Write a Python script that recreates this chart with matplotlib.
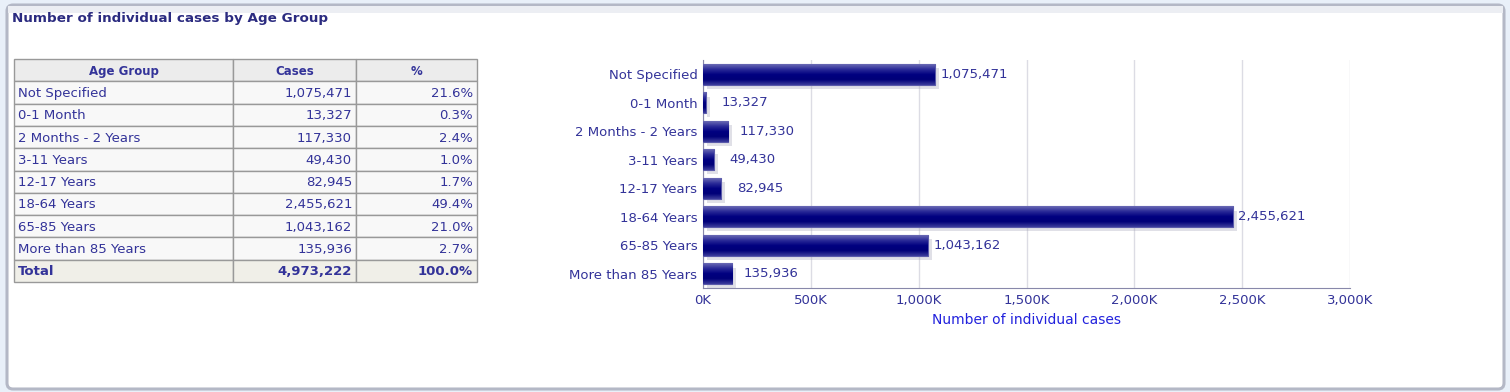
import numpy as np
import matplotlib
matplotlib.use("Agg")
import matplotlib.pyplot as plt
from matplotlib.patches import FancyBboxPatch, Rectangle
from matplotlib.colors import LinearSegmentedColormap
from matplotlib.ticker import FuncFormatter
import matplotlib.patheffects as pe

# data
age_groups = ["Not Specified", "0-1 Month", "2 Months - 2 Years", "3-11 Years",
              "12-17 Years", "18-64 Years", "65-85 Years", "More than 85 Years"]
cases = [1075471, 13327, 117330, 49430, 82945, 2455621, 1043162, 135936]
percents = [21.6, 0.3, 2.4, 1.0, 1.7, 49.4, 21.0, 2.7]
total_cases = 4973222
total_pct = 100.0
headers = ["Age Group", "Cases", "%"]
xticks = [0, 500000, 1000000, 1500000, 2000000, 2500000, 3000000]

title = "Number of individual cases by Age Group"
xlabel = "Number of individual cases"

txt = "#333399"
W, H = 1510, 392
fig = plt.figure(figsize=(W / 100, H / 100), dpi=100)
fig.patch.set_facecolor("#e9f0f9")

# background layer in pixel coords
bg = fig.add_axes([0, 0, 1, 1])
bg.set_xlim(0, W)
bg.set_ylim(H, 0)
bg.axis("off")
bg.add_patch(FancyBboxPatch((7, 5), W - 13, H - 8, boxstyle="round,pad=0,rounding_size=6",
                            fc="white", ec="#b4b8c6", lw=2.2))
bg.add_patch(Rectangle((8, 6), W - 15, 7, fc="#eceef3", ec="none"))
bg.text(12, 18, title, fontsize=9.7, fontweight="bold", color="#2b2b80", va="center", ha="left")

# table
col_x = [14, 233, 356, 477]
top, bottom = 59, 282
nrows = len(age_groups) + 2
rh = (bottom - top) / nrows
rows = [headers]
for g, c, p in zip(age_groups, cases, percents):
    rows.append([g, f"{c:,}", f"{p:.1f}%"])
rows.append(["Total", f"{total_cases:,}", f"{total_pct:.1f}%"])
for i, row in enumerate(rows):
    y0 = top + i * rh
    if i == 0:
        fc = "#ececec"
    elif i == nrows - 1:
        fc = "#f0efe8"
    else:
        fc = "#f8f8f8"
    for j in range(3):
        bg.add_patch(Rectangle((col_x[j], y0), col_x[j + 1] - col_x[j], rh,
                               fc=fc, ec="#999999", lw=1))
        bold = i == 0 or i == nrows - 1
        fs = 8.5 if i == 0 else 9.5
        if i == 0:
            x, ha = (col_x[j] + col_x[j + 1]) / 2, "center"
        elif j == 0:
            x, ha = col_x[j] + 4, "left"
        else:
            x, ha = col_x[j + 1] - 4, "right"
        bg.text(x, y0 + rh / 2 + 1, row[j], fontsize=fs, color=txt, ha=ha, va="center",
                fontweight="bold" if bold else "normal")

# bar chart
ax = fig.add_axes([703 / W, 1 - 288 / H, (1350 - 703) / W, (288 - 60) / H])
ypos = np.arange(len(age_groups))
bars = ax.barh(ypos, cases, height=0.72, color="#101088", edgecolor="#5a5aaa", lw=0.8, zorder=3,
               path_effects=[pe.SimplePatchShadow(offset=(3, -3), shadow_rgbFace="#9a9ab0", alpha=0.3),
                             pe.Normal()])
cmap = LinearSegmentedColormap.from_list("bar", ["#6a6ab4", "#2a2a98", "#000080", "#000078", "#3c3c9c"])
grad = np.linspace(0, 1, 64).reshape(-1, 1)
for b in bars:
    im = ax.imshow(grad, cmap=cmap, aspect="auto", zorder=4,
                   extent=(b.get_x(), b.get_x() + b.get_width(), b.get_y() + b.get_height(), b.get_y()))
    im.set_clip_path(b)
# value labels centred a fixed distance past the bar end
for b, v in zip(bars, cases):
    ax.annotate(f"{v:,}", (v, b.get_y() + b.get_height() / 2), xytext=(39, 0),
                textcoords="offset pixels", va="center", ha="center", fontsize=9.5, color=txt, zorder=5)

ax.set_ylim(len(age_groups) - 0.5, -0.5)
ax.set_xlim(0, 3000000)
ax.set_yticks(ypos)
ax.set_yticklabels(age_groups)
ax.set_xticks(xticks)
ax.xaxis.set_major_formatter(FuncFormatter(lambda v, p: f"{int(v / 1000):,}K"))
ax.tick_params(axis="both", length=0, labelsize=9.5, labelcolor=txt)
ax.tick_params(axis="y", pad=4)
ax.tick_params(axis="x", pad=4)
ax.grid(axis="x", color="#dcdce4", lw=1, zorder=0)
ax.set_axisbelow(True)
for s in ["top", "right"]:
    ax.spines[s].set_visible(False)
ax.spines["left"].set_color("#8888aa")
ax.spines["bottom"].set_color("#8888aa")
ax.set_xlabel(xlabel, fontsize=10, color="#2222dd", labelpad=5)

fig.savefig("out.png", dpi=100, facecolor=fig.get_facecolor())
